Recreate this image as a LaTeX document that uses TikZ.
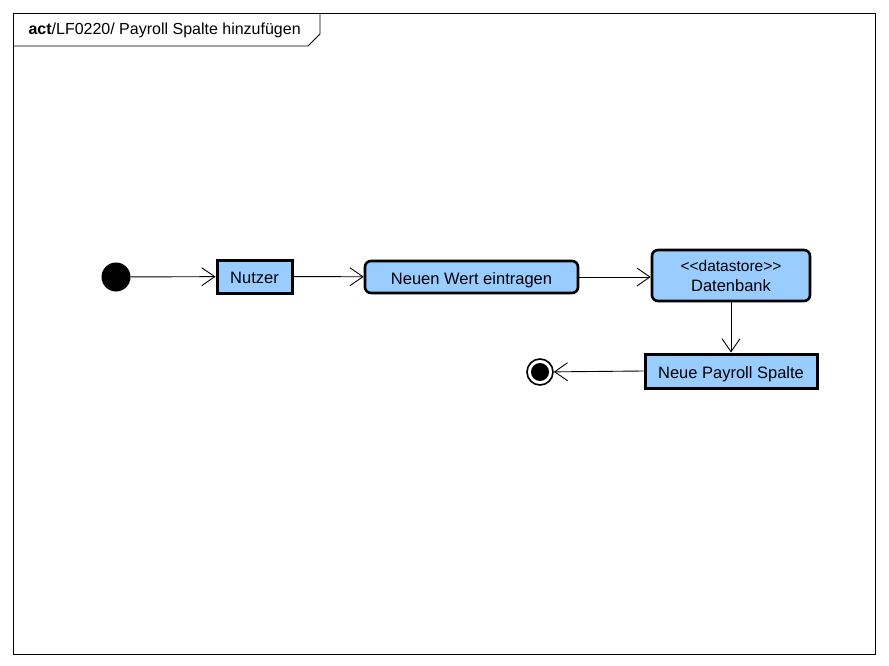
\documentclass[tikz,border=0pt]{standalone}
\usepackage{fontspec}
\setmainfont{Liberation Sans}
\usetikzlibrary{arrows.meta}
\definecolor{actfill}{HTML}{99CCFF}
\begin{document}
\begin{tikzpicture}[x=1pt,y=-1pt,
  every node/.style={font=\fontsize{16.5}{20}\selectfont},
  actrect/.style={draw=black,line width=3pt,fill=actfill,inner sep=0pt,text height=11.5pt,text depth=0pt},
  actround/.style={actrect,line width=2.6pt,rounded corners=6pt},
  flow/.style={draw=black,line width=0.9pt,-{Straight Barb[length=13pt,width=18pt,line width=0.9pt]}}]
\useasboundingbox (0,0) rectangle (889,666);
\fill[white] (0,0) rectangle (889,666);
% frame
\draw[line width=0.8pt] (13,13) rectangle (875,654);
\draw[line width=0.8pt] (13,46) -- (308,46) -- (320,34) -- (320,13);
\node[anchor=west,font=\fontsize{16}{19}\selectfont] (title) at (25,30.5) {\textbf{act}/LF0220/ Payroll Spalte hinzufügen};
% nodes
\node[circle,fill=black,minimum size=29pt,inner sep=0pt] (start) at (116,277) {};
\node[actrect,minimum width=75pt,minimum height=33pt] (nutzer) at (254.5,276.5) {\raisebox{-1.5pt}{Nutzer}};
\node[actround,minimum width=213pt,minimum height=32pt] (wert) at (471.5,277) {\raisebox{-1.5pt}{Neuen Wert eintragen}};
\node[actround,minimum width=158pt,minimum height=51pt,align=center,text height=,text depth=] (db) at (731,275.5) {\fontsize{15.5}{20}\selectfont <\kern0pt<datastore>\kern0pt>\\Datenbank};
\node[actrect,minimum width=172pt,minimum height=34pt] (spalte) at (731,371) {\raisebox{-1.5pt}{Neue Payroll Spalte}};
\node[circle,draw=black,line width=1.6pt,fill=white,minimum size=26pt,inner sep=0pt] (end) at (540,372) {};
\node[circle,fill=black,minimum size=18pt,inner sep=0pt] (endin) at (end) {};
% flows
\draw[flow] (start) -- (nutzer);
\draw[flow] (nutzer) -- (wert);
\draw[flow] (wert.east) -- (db.west |- wert.east);
\draw[flow] (db.south) -- (spalte.north);
\draw[flow] (spalte.west) -- (end);
\end{tikzpicture}
\end{document}
